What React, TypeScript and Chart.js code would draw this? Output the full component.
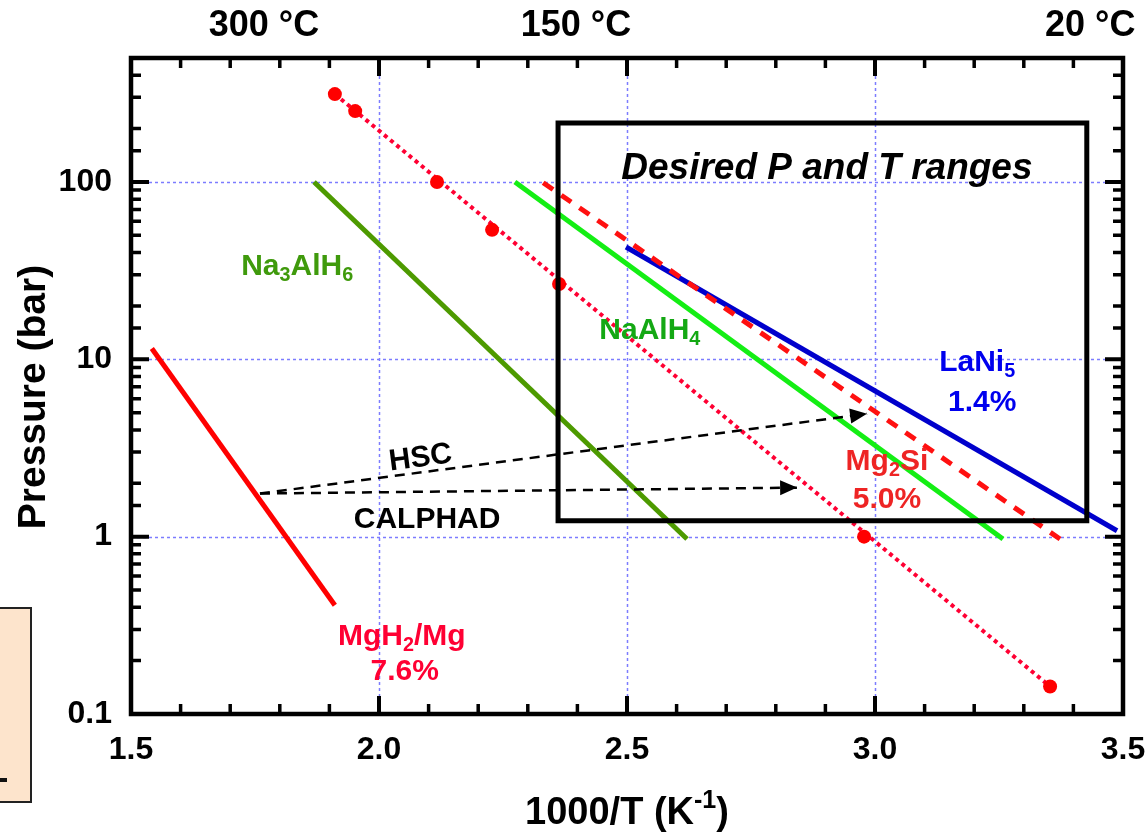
import React, { useEffect, useRef } from 'react';
import { Chart, registerables } from 'chart.js';

Chart.register(...registerables);

const FONT = '"Liberation Sans", Arial, Helvetica, sans-serif';

// ---- data (x = 1000/T in K^-1, y = pressure in bar) ----
const mgh2X = [1.542, 1.911];
const mgh2P = [11.5, 0.41];
const na3alh6X = [1.869, 2.621];
const na3alh6P = [100, 0.97];
const naalh4X = [2.274, 3.258];
const naalh4P = [100, 0.97];
const lani5X = [2.498, 3.488];
const lani5P = [43, 1.08];
const mg2siX = [2.331, 3.373];
const mg2siP = [99, 0.97];
const expX = [1.911, 1.952, 2.117, 2.228, 2.363, 2.978, 3.353];
const expP = [313, 251, 100, 53.7, 26.6, 1.0, 0.143];
const expFitX = [1.911, 3.353];
const expFitP = [313, 0.143];
const hscX = [1.76, 2.984];
const hscP = [1.75, 4.93];
const calphadX = [1.76, 2.843];
const calphadP = [1.75, 1.89];
const boxX = [2.361, 3.427];
const boxP = [1.23, 215];

const topLabels = ['300 °C', '150 °C', '20 °C'];
const topLabelX = [1.768, 2.397, 3.434];

type Part = { t: string; s?: 'sub' | 'sup' };
type Label = { parts: Part[]; x: number; p: number; color: string; size: number; italic?: boolean; rotateWith?: number };

const labels: Label[] = [
  { parts: [{ t: 'Na' }, { t: '3', s: 'sub' }, { t: 'AlH' }, { t: '6', s: 'sub' }], x: 1.835, p: 34.5, color: '#3f9a0c', size: 30 },
  { parts: [{ t: 'NaAlH' }, { t: '4', s: 'sub' }], x: 2.546, p: 15.0, color: '#14a814', size: 30 },
  { parts: [{ t: 'LaNi' }, { t: '5', s: 'sub' }], x: 3.206, p: 9.94, color: '#0000ee', size: 30 },
  { parts: [{ t: '1.4%' }], x: 3.216, p: 5.91, color: '#0000ee', size: 30 },
  { parts: [{ t: 'Mg' }, { t: '2', s: 'sub' }, { t: 'Si' }], x: 3.024, p: 2.72, color: '#ee2424', size: 30 },
  { parts: [{ t: '5.0%' }], x: 3.024, p: 1.66, color: '#ee2424', size: 30 },
  { parts: [{ t: 'MgH' }, { t: '2', s: 'sub' }, { t: '/Mg' }], x: 2.046, p: 0.2805, color: '#ff0033', size: 30 },
  { parts: [{ t: '7.6%' }], x: 2.052, p: 0.178, color: '#ff0033', size: 30 },
  { parts: [{ t: 'HSC' }], x: 2.083, p: 2.86, color: '#000000', size: 30, rotateWith: 1 },
  { parts: [{ t: 'CALPHAD' }], x: 2.097, p: 1.28, color: '#000000', size: 30 },
  { parts: [{ t: 'Desired P and T ranges' }], x: 2.903, p: 123, color: '#000000', size: 37, italic: true },
];

const pts = (xs: number[], ys: number[]) => xs.map((x, i) => ({ x, y: ys[i] }));
const isHalf = (v: number) => Math.abs(v * 2 - Math.round(v * 2)) < 1e-6;
const isDecade = (v: number) => {
  const l = Math.log10(v);
  return Math.abs(l - Math.round(l)) < 1e-6;
};

function drawRich(ctx: CanvasRenderingContext2D, parts: Part[], cx: number, cy: number, size: number, color: string, italic = false) {
  const f = (sz: number) => `${italic ? 'italic ' : ''}bold ${sz}px ${FONT}`;
  let w = 0;
  const widths = parts.map((p) => {
    ctx.font = f(p.s ? size * 0.66 : size);
    const m = ctx.measureText(p.t).width;
    w += m;
    return m;
  });
  let x = cx - w / 2;
  const base = cy + size * 0.358;
  ctx.fillStyle = color;
  ctx.textBaseline = 'alphabetic';
  ctx.textAlign = 'left';
  parts.forEach((p, i) => {
    ctx.font = f(p.s ? size * 0.66 : size);
    const yy = p.s === 'sub' ? base + size * 0.2 : p.s === 'sup' ? base - size * 0.42 : base;
    ctx.fillText(p.t, x, yy);
    x += widths[i];
  });
}

const overlay = {
  id: 'overlay',
  beforeDatasetsDraw(chart: any) {
    const { ctx, chartArea: a } = chart;
    const xs = chart.scales.x;
    const ys = chart.scales.y;
    ctx.save();
    ctx.strokeStyle = '#7c7cff';
    ctx.lineWidth = 1.5;
    ctx.setLineDash([3, 3]);
    xs.ticks.forEach((t: any) => {
      const v = t.value;
      if (isHalf(v) && v > xs.min + 1e-6 && v < xs.max - 1e-6) {
        const px = Math.round(xs.getPixelForValue(v)) + 0.5;
        ctx.beginPath();
        ctx.moveTo(px, a.top);
        ctx.lineTo(px, a.bottom);
        ctx.stroke();
      }
    });
    ys.ticks.forEach((t: any) => {
      const v = t.value;
      if (isDecade(v) && v > ys.min * 1.0001 && v < ys.max * 0.9999) {
        const py = Math.round(ys.getPixelForValue(v)) + 0.5;
        ctx.beginPath();
        ctx.moveTo(a.left, py);
        ctx.lineTo(a.right, py);
        ctx.stroke();
      }
    });
    ctx.restore();
  },
  afterDraw(chart: any) {
    const { ctx, chartArea: a } = chart;
    const xs = chart.scales.x;
    const ys = chart.scales.y;
    ctx.save();

    // arrowheads on the HSC and CALPHAD lines
    const arrowAngles: number[] = [];
    [1, 2].forEach((di) => {
      const d = chart.getDatasetMeta(di).data;
      const p0 = d[0];
      const p1 = d[d.length - 1];
      const ang = Math.atan2(p1.y - p0.y, p1.x - p0.x);
      arrowAngles.push(ang);
      const L = 17;
      const H = 7.5;
      ctx.fillStyle = '#000';
      ctx.beginPath();
      ctx.moveTo(p1.x, p1.y);
      ctx.lineTo(p1.x - L * Math.cos(ang) - H * Math.sin(ang), p1.y - L * Math.sin(ang) + H * Math.cos(ang));
      ctx.lineTo(p1.x - L * Math.cos(ang) + H * Math.sin(ang), p1.y - L * Math.sin(ang) - H * Math.cos(ang));
      ctx.closePath();
      ctx.fill();
    });

    // text annotations
    labels.forEach((lb) => {
      const cx = xs.getPixelForValue(lb.x);
      const cy = ys.getPixelForValue(lb.p);
      if (lb.rotateWith) {
        ctx.save();
        ctx.translate(cx, cy);
        ctx.rotate(arrowAngles[lb.rotateWith - 1]);
        drawRich(ctx, lb.parts, 0, 0, lb.size, lb.color, lb.italic);
        ctx.restore();
      } else {
        drawRich(ctx, lb.parts, cx, cy, lb.size, lb.color, lb.italic);
      }
    });

    // frame
    ctx.strokeStyle = '#000';
    ctx.lineWidth = 4.5;
    ctx.setLineDash([]);
    ctx.strokeRect(a.left, a.top, a.right - a.left, a.bottom - a.top);

    // inward ticks on all four sides
    ctx.lineCap = 'butt';
    xs.ticks.forEach((t: any) => {
      const v = t.value;
      if (v <= xs.min + 1e-6 || v >= xs.max - 1e-6) return;
      const major = isHalf(v);
      const len = major ? 18 : 10;
      ctx.lineWidth = major ? 4 : 3.5;
      const px = xs.getPixelForValue(v);
      ctx.beginPath();
      ctx.moveTo(px, a.bottom);
      ctx.lineTo(px, a.bottom - len);
      ctx.moveTo(px, a.top);
      ctx.lineTo(px, a.top + len);
      ctx.stroke();
    });
    ys.ticks.forEach((t: any) => {
      const v = t.value;
      if (v <= ys.min * 1.0001 || v >= ys.max * 0.9999) return;
      const major = isDecade(v);
      const len = major ? 18 : 10;
      ctx.lineWidth = major ? 4 : 3.5;
      const py = ys.getPixelForValue(v);
      ctx.beginPath();
      ctx.moveTo(a.left, py);
      ctx.lineTo(a.left + len, py);
      ctx.moveTo(a.right, py);
      ctx.lineTo(a.right - len, py);
      ctx.stroke();
    });

    // top temperature labels
    ctx.fillStyle = '#000';
    ctx.font = `bold 36px ${FONT}`;
    ctx.textAlign = 'center';
    ctx.textBaseline = 'middle';
    topLabels.forEach((s, i) => {
      ctx.fillText(s, xs.getPixelForValue(topLabelX[i]), 26);
    });

    // axis titles
    drawRich(ctx, [{ t: '1000/T (K' }, { t: '-1', s: 'sup' }, { t: ')' }], (a.left + a.right) / 2, a.bottom + 96, 38, '#000');
    ctx.save();
    ctx.translate(31, 397);
    ctx.rotate(-Math.PI / 2);
    drawRich(ctx, [{ t: 'Pressure (bar)' }], 0, 0, 39, '#000');
    ctx.restore();

    ctx.restore();
  },
};

export default function App() {
  const ref = useRef<HTMLCanvasElement>(null);
  useEffect(() => {
    const canvas = ref.current;
    if (!canvas) return;
    const line = (data: any[], color: string, extra: any = {}) => ({
      data,
      showLine: true,
      borderColor: color,
      backgroundColor: color,
      borderWidth: 5,
      pointRadius: 0,
      fill: false,
      order: 3,
      ...extra,
    });
    const boxData = [
      { x: boxX[0], y: boxP[0] },
      { x: boxX[1], y: boxP[0] },
      { x: boxX[1], y: boxP[1] },
      { x: boxX[0], y: boxP[1] },
      { x: boxX[0], y: boxP[0] },
    ];
    const chart = new Chart(canvas, {
      type: 'scatter',
      data: {
        datasets: [
          line(boxData, '#000000', { order: 0, borderWidth: 5, borderCapStyle: 'square', borderJoinStyle: 'miter' }),
          line(pts(hscX, hscP), '#000000', { order: 1, borderWidth: 2.5, borderDash: [10, 7] }),
          line(pts(calphadX, calphadP), '#000000', { order: 1, borderWidth: 2.5, borderDash: [10, 7] }),
          {
            data: pts(expX, expP),
            showLine: false,
            pointRadius: 7,
            pointBackgroundColor: '#ff0000',
            pointBorderWidth: 0,
            order: 2,
          },
          line(pts(expFitX, expFitP), '#ff0033', { borderWidth: 4, borderDash: [4, 4] }),
          line(pts(mg2siX, mg2siP), '#ff1010', { borderWidth: 5, borderDash: [12, 10] }),
          line(pts(lani5X, lani5P), '#0000cc'),
          line(pts(naalh4X, naalh4P), '#14ee14'),
          line(pts(na3alh6X, na3alh6P), '#4d9a00'),
          line(pts(mgh2X, mgh2P), '#ff0000'),
        ],
      },
      options: {
        responsive: false,
        animation: false,
        events: [],
        layout: { padding: { top: 58, right: 24, left: 0, bottom: 0 } },
        plugins: { legend: { display: false }, tooltip: { enabled: false } },
        scales: {
          x: {
            type: 'linear',
            position: 'bottom',
            min: 1.5,
            max: 3.5,
            afterFit: (s: any) => {
              s.height = 120;
              s.paddingLeft = 0;
              s.paddingRight = 0;
            },
            grid: { display: false, drawTicks: false },
            border: { display: false },
            ticks: {
              stepSize: 0.1,
              autoSkip: false,
              maxRotation: 0,
              padding: 17,
              color: '#000',
              font: { family: FONT, size: 32, weight: 'bold' },
              callback: (v: any) => (isHalf(Number(v)) ? Number(v).toFixed(1) : ''),
            },
          },
          y: {
            type: 'logarithmic',
            position: 'left',
            min: 0.1,
            max: 500,
            afterFit: (s: any) => {
              s.width = 131;
              s.paddingTop = 0;
              s.paddingBottom = 0;
            },
            grid: { display: false, drawTicks: false },
            border: { display: false },
            ticks: {
              autoSkip: false,
              padding: 19,
              color: '#000',
              font: { family: FONT, size: 32, weight: 'bold' },
              callback: (v: any) => {
                const n = Number(v);
                if (!isDecade(n)) return '';
                return n < 1 ? n.toFixed(1) : String(Math.round(n));
              },
            },
          },
        },
      } as any,
      plugins: [overlay as any],
    });
    return () => chart.destroy();
  }, []);

  return (
    <div style={{ position: 'absolute', left: 0, top: 0, width: 1147, height: 834, background: '#fff', overflow: 'hidden' }}>
      <canvas ref={ref} width={1147} height={834} style={{ display: 'block' }} />
      <div
        style={{
          position: 'absolute',
          left: -4,
          top: 607,
          width: 32,
          height: 192,
          background: '#fde4cc',
          border: '2px solid #222',
        }}
      />
      <div style={{ position: 'absolute', left: 0, top: 778, width: 7, height: 4, background: '#111' }} />
    </div>
  );
}
